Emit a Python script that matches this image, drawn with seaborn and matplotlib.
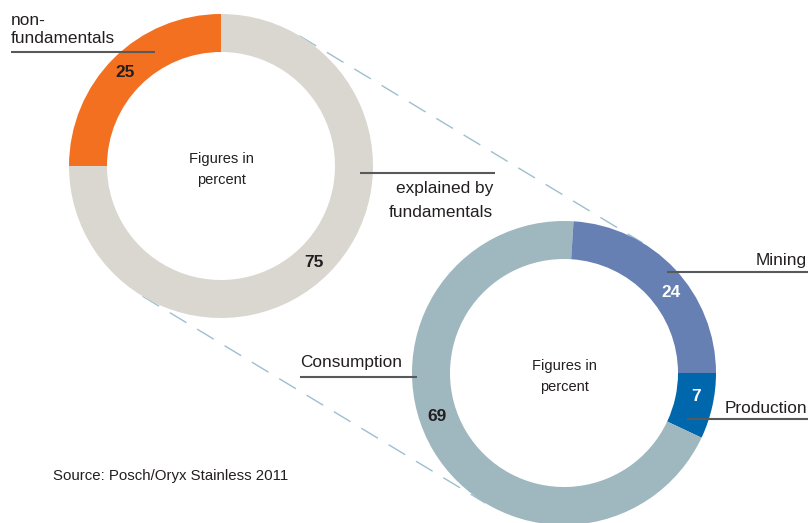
import numpy as np
import matplotlib
matplotlib.use("Agg")
import matplotlib.pyplot as plt
from matplotlib import font_manager
import seaborn as sns

# Price movement split and the breakdown of the fundamental part
split_labels = ["non-\nfundamentals", "explained by\nfundamentals"]
split_values = [25, 75]

driver_labels = ["Production", "Consumption", "Mining"]
driver_values = [7, 69, 24]

center_caption = "Figures in\npercent"
source_note = "Source: Posch/Oryx Stainless 2011"

sns.set_theme(style="white")
installed = {f.name for f in font_manager.fontManager.ttflist}
narrow = "Liberation Sans Narrow" in installed
plt.rcParams["font.family"] = ["Liberation Sans Narrow" if narrow else "Liberation Sans", "DejaVu Sans"]
fs = 1.0 if narrow else 0.83

W, H = 811, 523
fig = plt.figure(figsize=(W / 100, H / 100), dpi=100)
ax = fig.add_axes([0, 0, 1, 1])


def Y(y):
    return H - y


R, RING = 152, 38
c1 = np.array([221.0, Y(166)])
c2 = np.array([564.0, Y(373)])

split_colors = ["#F37021", "#DAD7D0"]
driver_colors = ["#0067AD", "#9FB7BF", "#6680B3"]
text_dark = "#231F20"
leader = "#58595B"
dash_col = "#9DBFCF"

wp = dict(width=RING, linewidth=0, edgecolor="none")
ax.pie(split_values, colors=split_colors, radius=R, center=tuple(c1),
       startangle=90, counterclock=True, wedgeprops=wp, frame=True)
ax.pie(driver_values, colors=driver_colors, radius=R, center=tuple(c2),
       startangle=0, counterclock=False, wedgeprops=wp, frame=True)

# outer tangents joining the two rings
d = (c2 - c1) / np.linalg.norm(c2 - c1)
n = np.array([-d[1], d[0]])
for s in (1, -1):
    p1 = c1 + s * R * n
    p2 = c2 + s * R * n
    ax.plot([p1[0], p2[0]], [p1[1], p2[1]], color=dash_col, lw=1.0,
            dashes=(14, 9), zorder=0)

ax.set_xlim(0, W)
ax.set_ylim(0, H)
ax.set_aspect("equal")
ax.axis("off")


def lines_at(x, baselines, text, ha, size, **kw):
    for yb, part in zip(baselines, text.split("\n")):
        ax.text(x, Y(yb), part, ha=ha, va="baseline", fontsize=size * fs,
                color=text_dark, **kw)


def leader_line(x0, x1, y):
    ax.plot([x0, x1], [Y(y), Y(y)], color=leader, lw=1.5, solid_capstyle="butt", zorder=5)


# first ring labels
lines_at(11, [25, 43], split_labels[0], "left", 15)
leader_line(11, 155, 52)
lines_at(493, [193, 217], split_labels[1], "right", 15)
leader_line(360, 495, 173)

# second ring labels
lines_at(807, [265], driver_labels[2], "right", 15)
leader_line(667, 808, 272)
lines_at(807, [413], driver_labels[0], "right", 15)
leader_line(687, 808, 419)
lines_at(300, [367], driver_labels[1], "left", 15)
leader_line(300, 417, 377)

# centre captions
for c in (c1, c2):
    lines_at(c[0], [Y(c[1]) - 3, Y(c[1]) + 18], center_caption, "center", 12.7)

# value labels placed on the rings
rmid = 134
value_spots = [
    (c1, 136, split_values[0], text_dark),
    (c1, -46, split_values[1], text_dark),
    (c2, -10, driver_values[0], "white"),
    (c2, 199, driver_values[1], text_dark),
    (c2, 37, driver_values[2], "white"),
]
for c, ang, v, col in value_spots:
    a = np.deg2rad(ang)
    ax.text(c[0] + rmid * np.cos(a), c[1] + rmid * np.sin(a), f"{v}",
            ha="center", va="center", fontsize=15 * fs, fontweight="bold",
            color=col, zorder=6)

ax.text(53, Y(480), source_note, ha="left", va="baseline", fontsize=13.0 * fs,
        color=text_dark)

fig.savefig("out.png", dpi=100)
